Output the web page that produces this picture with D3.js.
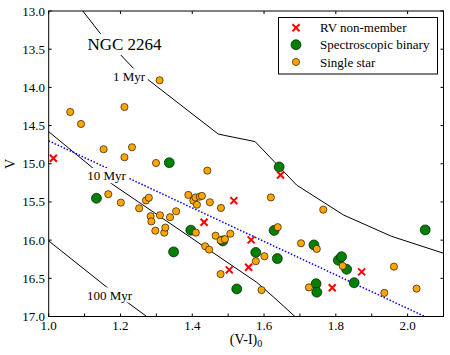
<!DOCTYPE html>
<html>
<head>
<meta charset="utf-8">
<script src="https://cdn.jsdelivr.net/npm/d3@7"></script>
<style>
  body { margin: 0; background: #fff; }
  svg { display: block; }
  svg text { font-family: "Liberation Serif", "DejaVu Serif", serif; }
</style>
</head>
<body>
<div id="chart"></div>
<script>
// single stars (orange)
var singleX = [1.309, 1.060, 1.211, 1.090, 1.153, 1.232, 1.211, 1.299, 1.442, 1.166,
               1.201, 1.252, 1.271, 1.279, 1.284, 1.286, 1.297, 1.322, 1.325, 1.310,
               1.338, 1.355, 1.389, 1.403, 1.409, 1.413, 1.421, 1.427, 1.449, 1.480,
               1.410, 1.436, 1.447, 1.465, 1.479, 1.491, 1.479, 1.506, 1.619, 1.765,
               1.638, 1.703, 1.747, 1.601, 1.577, 1.819, 1.962, 1.725, 1.593, 1.935, 2.025];
var singleV = [13.907, 14.322, 14.257, 14.479, 14.810, 14.784, 14.915, 14.990, 15.090, 15.399,
               15.509, 15.583, 15.480, 15.445, 15.687, 15.755, 15.876, 15.902, 15.836, 15.674,
               15.700, 15.622, 15.408, 15.483, 15.441, 15.537, 15.431, 15.421, 15.504, 15.579,
               15.902, 16.080, 16.124, 15.942, 16.004, 15.988, 16.445, 15.916, 15.441, 15.601,
               15.830, 16.041, 16.115, 16.211, 16.276, 16.338, 16.347, 16.619, 16.654, 16.691, 16.635];

// spectroscopic binaries (green)
var binaryX = [1.336, 1.642, 1.133, 1.396, 1.348, 1.485, 1.628, 1.577, 1.637, 1.524,
               1.739, 1.745, 1.747, 1.807, 1.816, 1.830, 1.851, 2.049];
var binaryV = [14.986, 15.042, 15.452, 15.870, 16.154, 16.010, 15.873, 16.161, 16.242, 16.639,
               16.063, 16.571, 16.682, 16.263, 16.217, 16.381, 16.558, 15.866];

// RV non-members (red crosses)
var nonMemberX = [1.013, 1.646, 1.516, 1.433, 1.564, 1.503, 1.557, 1.790, 1.872];
var nonMemberV = [14.928, 15.147, 15.483, 15.766, 15.997, 16.390, 16.355, 16.623, 16.416];

// isochrones
var iso1X = [1.095, 1.143, 1.236, 1.472, 1.491, 1.575, 1.691, 1.821, 1.955, 2.099];
var iso1V = [13.00, 13.29, 13.75, 14.61, 14.63, 14.71, 15.28, 15.67, 15.95, 16.17];
var iso10X = [1.000, 1.124, 1.175, 1.491, 1.579, 1.630, 1.686];
var iso10V = [14.58, 15.06, 15.26, 16.27, 16.55, 16.76, 17.00];
var iso100X = [1.000, 1.163, 1.273];
var iso100V = [16.01, 16.62, 17.00];

// dotted fit line
var fitX = [1.000, 2.048];
var fitV = [14.70, 17.00];

var xTicks = [1.0, 1.1, 1.2, 1.3, 1.4, 1.5, 1.6, 1.7, 1.8, 1.9, 2.0, 2.1];
var xLabels = [1.0, 1.2, 1.4, 1.6, 1.8, 2.0];
var yTicks = [13.0, 13.5, 14.0, 14.5, 15.0, 15.5, 16.0, 16.5, 17.0];

var legendItems = ['RV non-member', 'Spectroscopic binary', 'Single star'];

(function() {
    var width = 450, height = 355;
    var pL = 48.7, pR = 443.5, pT = 11, pB = 316.5;

    var svg = d3.select('#chart').append('svg')
        .attr('width', width)
        .attr('height', height);

    var x = d3.scaleLinear().domain([1.0, 2.1]).range([pL, pR]);
    var y = d3.scaleLinear().domain([13, 17]).range([pT, pB]);

    svg.append('clipPath').attr('id', 'clip')
        .append('rect')
        .attr('x', pL).attr('y', pT)
        .attr('width', pR - pL).attr('height', pB - pT);

    var line = d3.line()
        .x(function(d) { return x(d[0]); })
        .y(function(d) { return y(d[1]); });

    function zip(a, b) {
        return a.map(function(v, i) { return [v, b[i]]; });
    }

    var lines = svg.append('g').attr('clip-path', 'url(#clip)');

    [[iso1X, iso1V], [iso10X, iso10V], [iso100X, iso100V]].forEach(function(s) {
        lines.append('path')
            .attr('d', line(zip(s[0], s[1])))
            .attr('fill', 'none')
            .attr('stroke', '#000')
            .attr('stroke-width', 1);
    });

    lines.append('path')
        .attr('d', line(zip(fitX, fitV)))
        .attr('fill', 'none')
        .attr('stroke', '#0000ff')
        .attr('stroke-width', 1.5)
        .attr('stroke-dasharray', '1.5,1.8');

    // labels with white background
    function label(txt, cx, base, size, pad) {
        var g = svg.append('g');
        var r = g.append('rect').attr('fill', '#fff');
        var t = g.append('text')
            .attr('x', cx).attr('y', base)
            .attr('text-anchor', 'middle')
            .attr('font-size', size)
            .attr('fill', '#000')
            .text(txt);
        var bb = t.node().getBBox();
        r.attr('x', bb.x - pad).attr('y', bb.y - pad + 2)
            .attr('width', bb.width + 2 * pad).attr('height', bb.height + 2 * pad - 4);
    }
    label('NGC 2264', 124.5, 50, 17, 3);
    label('1 Myr', 129, 80.5, 13, 2);
    label('10 Myr', 106.5, 180, 13, 2);
    label('100 Myr', 109.5, 299.5, 13, 2);

    var marks = svg.append('g').attr('clip-path', 'url(#clip)');

    marks.selectAll('circle.binary')
        .data(zip(binaryX, binaryV))
        .enter().append('circle')
        .attr('class', 'binary')
        .attr('cx', function(d) { return x(d[0]); })
        .attr('cy', function(d) { return y(d[1]); })
        .attr('r', 5)
        .attr('fill', '#008000')
        .attr('stroke', '#000')
        .attr('stroke-width', 0.6);

    marks.selectAll('circle.single')
        .data(zip(singleX, singleV))
        .enter().append('circle')
        .attr('class', 'single')
        .attr('cx', function(d) { return x(d[0]); })
        .attr('cy', function(d) { return y(d[1]); })
        .attr('r', 3.6)
        .attr('fill', '#ffa500')
        .attr('stroke', '#000')
        .attr('stroke-width', 0.6);

    function cross(sel, s) {
        sel.append('path')
            .attr('d', 'M' + (-s) + ',' + (-s) + 'L' + s + ',' + s + 'M' + (-s) + ',' + s + 'L' + s + ',' + (-s))
            .attr('stroke', '#ff0000')
            .attr('stroke-width', 2)
            .attr('fill', 'none');
    }

    marks.selectAll('g.nonmember')
        .data(zip(nonMemberX, nonMemberV))
        .enter().append('g')
        .attr('class', 'nonmember')
        .attr('transform', function(d) { return 'translate(' + x(d[0]) + ',' + y(d[1]) + ')'; })
        .each(function() { cross(d3.select(this), 3.5); });

    // frame and ticks
    var axes = svg.append('g').attr('stroke', '#000').attr('stroke-width', 1);
    axes.append('rect')
        .attr('x', pL).attr('y', pT)
        .attr('width', pR - pL).attr('height', pB - pT)
        .attr('fill', 'none');

    xTicks.forEach(function(t) {
        axes.append('line')
            .attr('x1', x(t)).attr('x2', x(t))
            .attr('y1', pB).attr('y2', pB - 3);
    });
    xLabels.forEach(function(t) {
        axes.append('line')
            .attr('x1', x(t)).attr('x2', x(t))
            .attr('y1', pT).attr('y2', pT + 3);
    });
    yTicks.forEach(function(t) {
        axes.append('line')
            .attr('x1', pL).attr('x2', pL + 3)
            .attr('y1', y(t)).attr('y2', y(t));
        axes.append('line')
            .attr('x1', pR).attr('x2', pR - 3)
            .attr('y1', y(t)).attr('y2', y(t));
    });

    var fmt = d3.format('.1f');
    svg.append('g').selectAll('text')
        .data(xLabels)
        .enter().append('text')
        .attr('x', function(d) { return x(d); })
        .attr('y', 329.5)
        .attr('text-anchor', 'middle')
        .attr('font-size', 13)
        .text(fmt);

    svg.append('g').selectAll('text')
        .data(yTicks)
        .enter().append('text')
        .attr('x', 45)
        .attr('y', function(d) { return y(d) + 4.5; })
        .attr('text-anchor', 'end')
        .attr('font-size', 13)
        .text(fmt);

    svg.append('text')
        .attr('transform', 'translate(15,164) rotate(-90)')
        .attr('text-anchor', 'middle')
        .attr('font-size', 14)
        .text('V');

    var xl = svg.append('text')
        .attr('x', 246)
        .attr('y', 344)
        .attr('text-anchor', 'middle')
        .attr('font-size', 14);
    xl.append('tspan').text('(V-I)');
    xl.append('tspan').attr('font-size', 10).attr('dy', 3).text('0');

    // legend
    var legend = svg.append('g');
    legend.append('rect')
        .attr('x', 278.5).attr('y', 17.5)
        .attr('width', 159).attr('height', 56.5)
        .attr('fill', '#fff')
        .attr('stroke', '#000')
        .attr('stroke-width', 1);

    var lx = 296;
    var legendY = [27.7, 44.7, 62];

    cross(legend.append('g').attr('transform', 'translate(' + lx + ',' + legendY[0] + ')'), 3.5);
    legend.append('circle')
        .attr('cx', lx).attr('cy', legendY[1]).attr('r', 5)
        .attr('fill', '#008000').attr('stroke', '#000').attr('stroke-width', 0.6);
    legend.append('circle')
        .attr('cx', lx).attr('cy', legendY[2]).attr('r', 3.6)
        .attr('fill', '#ffa500').attr('stroke', '#000').attr('stroke-width', 0.6);

    legend.selectAll('text.item')
        .data(legendItems)
        .enter().append('text')
        .attr('class', 'item')
        .attr('x', 320)
        .attr('y', function(d, i) { return legendY[i] + 4.5; })
        .attr('font-size', 13)
        .text(function(d) { return d; });
})();
</script>
</body>
</html>
